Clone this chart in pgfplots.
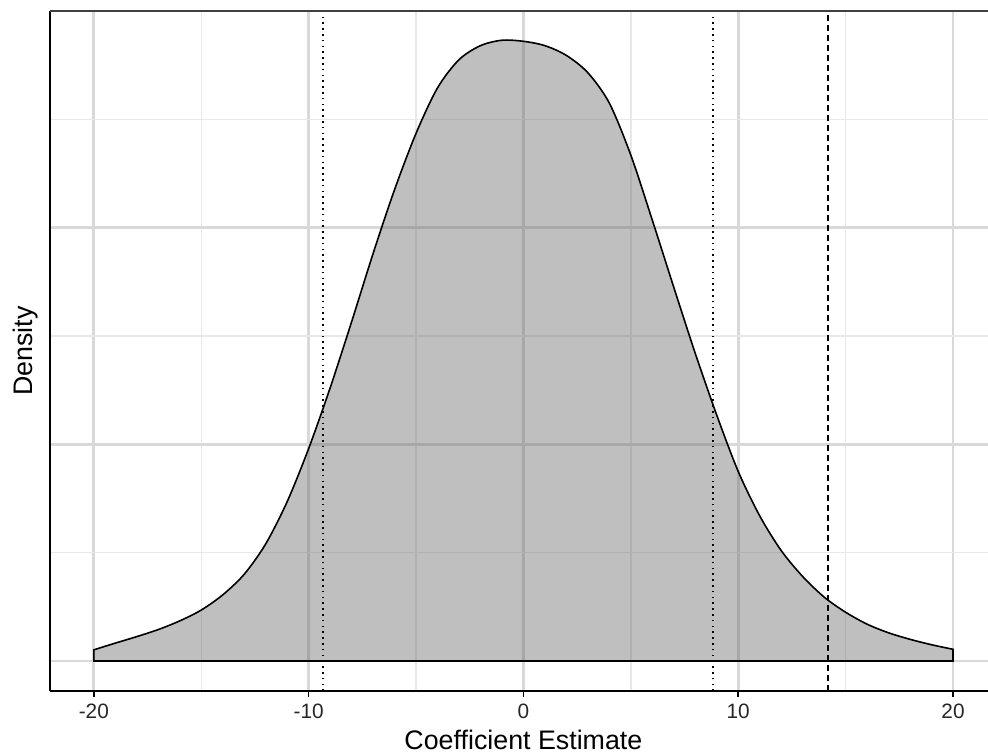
\documentclass[border=0pt]{standalone}
\usepackage{fontspec}
\setmainfont{Liberation Sans}
\usepackage{pgfplots}
\pgfplotsset{compat=1.18}

\begin{document}
\begin{tikzpicture}
\begin{axis}[
    scale only axis,
    width=469pt, height=340pt,
    xmin=-22.04, xmax=21.63,
    ymin=-0.00277, ymax=0.06,
    clip=false,
    axis x line*=bottom, axis y line*=left,
    axis line style={black, line width=0.8pt},
    xtick={-20,-10,0,10,20},
    xticklabels={-20,-10,0,10,20},
    minor xtick={-15,-5,5,15},
    ytick={0,0.02,0.04,0.06},
    minor ytick={0.01,0.03,0.05},
    yticklabels={},
    grid=both,
    major grid style={black!15, line width=1.4pt},
    minor grid style={black!9, line width=0.7pt},
    tick align=outside,
    major tick length=2.8pt,
    minor tick length=0pt,
    xtick style={black, line width=0.8pt},
    ytick style={draw=none},
    xticklabel style={font=\fontsize{10.4}{12}\selectfont, text=black!85},
    xlabel={Coefficient Estimate},
    ylabel={Density},
    xlabel style={font=\fontsize{13.4}{16}\selectfont, at={(axis description cs:0.5047,0)}, anchor=center, yshift=-24.6pt},
    ylabel style={font=\fontsize{13.4}{16}\selectfont, at={(axis description cs:-0.0262,0.5)}, anchor=center},
]
% density curve
\addplot[smooth, draw=black, line width=0.8pt, fill=black!60, fill opacity=0.42] coordinates {
(-20,0.00103) (-19,0.00165) (-18,0.00225) (-17,0.0029) (-16,0.0037)
(-15,0.0047) (-14,0.0061) (-13,0.0080) (-12,0.0108) (-11,0.0147)
(-10,0.0196) (-9,0.0252) (-8,0.0313) (-7,0.0376) (-6,0.0435)
(-5,0.0487) (-4,0.0529) (-3,0.0555) (-2,0.0568) (-1,0.0573)
(0,0.0572) (1,0.0568) (2,0.0559) (3,0.0543) (4,0.0515)
(5,0.0467) (6,0.0407) (7,0.0345) (8,0.0284) (9,0.0227)
(10,0.0175) (11,0.0134) (12,0.0102) (13,0.0078) (14,0.0059)
(15,0.0045) (16,0.0034) (17,0.0026) (18,0.0020) (19,0.0015)
(20,0.00108)
} \closedcycle;
% interval lines
\addplot[black, line width=0.8pt, dash pattern=on 0.8pt off 2.1pt] coordinates {(-9.32,-0.00277) (-9.32,0.06)};
\addplot[black, line width=0.8pt, dash pattern=on 0.8pt off 2.1pt] coordinates {(8.83,-0.00277) (8.83,0.06)};
\addplot[black, line width=0.8pt, dash pattern=on 2.8pt off 2.2pt] coordinates {(14.17,-0.00277) (14.17,0.06)};
\end{axis}
\draw[black!75, line width=0.9pt] (current axis.north west) -- (current axis.north east);
\pgfresetboundingbox
\path ([shift={(-25pt,-30.8pt)}]current axis.south west) rectangle ([shift={(0pt,5.5pt)}]current axis.north east);
\end{tikzpicture}
\end{document}
